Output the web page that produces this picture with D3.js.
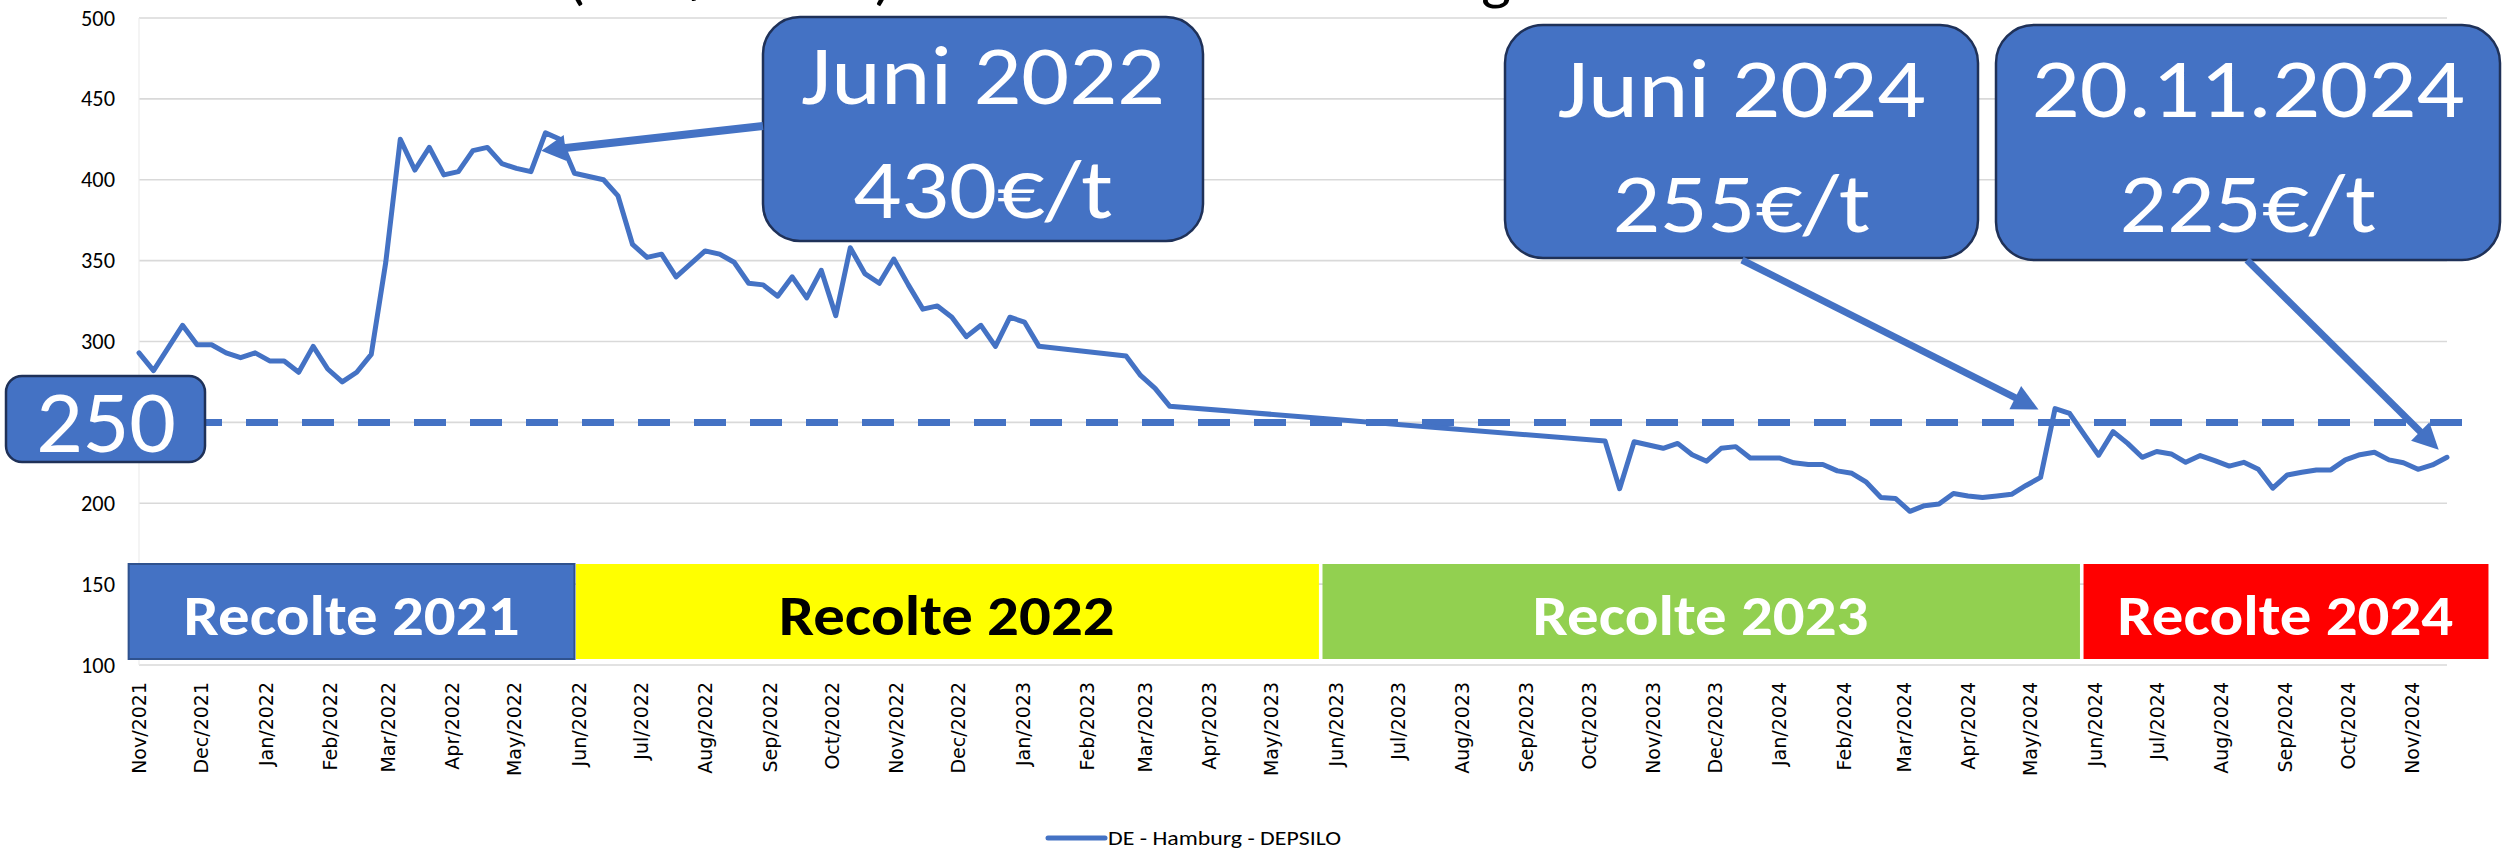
<!DOCTYPE html>
<html><head><meta charset="utf-8">
<script src="https://cdn.jsdelivr.net/npm/d3@7"></script>
<style>html,body{margin:0;padding:0;background:#fff;} svg{display:block}</style>
</head><body>
<svg id="chart" width="2503" height="850"></svg>
<script>
// ---------------- DATA ----------------
const titleText = "Prix du blé (EUR/Tonne) - Marché DE - Hamburg";
const seriesName = "DE - Hamburg - DEPSILO";
const dates = [
 "2021-11-03","2021-11-10","2021-11-24","2021-12-01","2021-12-08","2021-12-15","2021-12-22","2021-12-29",
 "2022-01-05","2022-01-12","2022-01-19","2022-01-26","2022-02-02","2022-02-09","2022-02-16","2022-02-23",
 "2022-03-02","2022-03-09","2022-03-16","2022-03-23","2022-03-30","2022-04-06","2022-04-13","2022-04-20",
 "2022-04-27","2022-05-04","2022-05-11","2022-05-18","2022-05-25","2022-06-01","2022-06-08","2022-06-15",
 "2022-06-22","2022-06-29","2022-07-06","2022-07-13","2022-07-20","2022-07-27","2022-08-03","2022-08-10",
 "2022-08-17","2022-08-24","2022-08-31","2022-09-07","2022-09-14","2022-09-21","2022-09-28","2022-10-05",
 "2022-10-12","2022-10-19","2022-10-26","2022-11-02","2022-11-09","2022-11-16","2022-11-23","2022-11-30",
 "2022-12-07","2022-12-14","2022-12-21","2022-12-28","2023-01-04","2023-01-11","2023-02-22","2023-03-01",
 "2023-03-08","2023-03-15","2023-10-11","2023-10-18","2023-10-25","2023-11-01","2023-11-08","2023-11-15",
 "2023-11-22","2023-11-29","2023-12-06","2023-12-13","2023-12-20","2023-12-27","2024-01-03","2024-01-10",
 "2024-01-17","2024-01-24","2024-01-31","2024-02-07","2024-02-14","2024-02-21","2024-02-28","2024-03-06",
 "2024-03-13","2024-03-20","2024-03-27","2024-04-03","2024-04-10","2024-04-17","2024-04-24","2024-05-01",
 "2024-05-08","2024-05-15","2024-05-22","2024-05-29","2024-06-05","2024-06-12","2024-06-19","2024-06-26",
 "2024-07-03","2024-07-10","2024-07-17","2024-07-24","2024-07-31","2024-08-07","2024-08-14","2024-08-21",
 "2024-08-28","2024-09-04","2024-09-11","2024-09-18","2024-09-25","2024-10-02","2024-10-09","2024-10-16",
 "2024-10-23","2024-10-30","2024-11-06","2024-11-13","2024-11-20"
];
const prices = [
 293,282,310,298,298,293,290,293,
 288,288,281,297,283,275,281,292,
 349,425,406,420,403,405,418,420,
 410,407,405,429,425,404,402,400,
 390,360,352,354,340,348,356,354,
 349,336,335,328,340,327,344,316,
 358,342,336,351,335,320,322,315,
 303,310,297,315,312,297,291,279,
 271,260,238.5,209,238,236,234,237,
 230,226,234,235,228,228,228,225,
 224,224,220,218.5,213,203.5,203,195,
 198.5,199.5,206,204.5,203.5,204.5,205.5,211,
 216,258.5,255.5,242.5,229.7,244.3,237,228.4,
 232,230.5,225.3,229.5,226.4,223,225.3,221,
 209.3,217.5,219.2,220.6,220.6,226.8,230,231.5,
 226.8,225,221,223.7,228.4
];
const yTicks = [100,150,200,250,300,350,400,450,500];
const threshold = 250;
const harvestLabels = ["Recolte 2021","Recolte 2022","Recolte 2023","Recolte 2024"];
const harvestStart  = ["2021-10-29","2022-06-01","2023-05-27","2024-05-28"];
const harvestEnd    = ["2022-06-01","2023-05-26","2024-05-27","2024-12-10"];
const harvestFill   = ["#4472C4","#FFFF00","#92D050","#FF0000"];
const harvestInk    = ["#FFFFFF","#000000","#FFFFFF","#FFFFFF"];
const calloutLines  = [["Juni 2022","430€/t"],["Juni 2024","255€/t"],["20.11.2024","225€/t"]];
const calloutTargetDate  = ["2022-05-16","2024-05-07","2024-11-16"];
const calloutTargetValue = [418, 258, 233];

// ---------------- LAYOUT ----------------
const W = 2503, H = 850;
const plot = {left:139, right:2447, top:18, bottom:665};
const blue = "#4472C4", navy = "#1f3158";
const calibri = "Carlito, Calibri, Lato, 'Open Sans', sans-serif";
const boxes = [
  {x:763, y:17, w:440, h:224, r:37, base:[104,218], tl:[364,260], from:[763,126], sw:8, head:[24,26]},
  {x:1505,y:25, w:473, h:233, r:38, base:[117,232], tl:[368,258], from:[1742,260], sw:7, head:[26,26]},
  {x:1996,y:25, w:504, h:235, r:38, base:[117,232], tl:[433,257], from:[2247,260], sw:7, head:[26,26]}
];

const parse = d3.timeParse("%Y-%m-%d");
const series = dates.map((d,i)=>({date:parse(d), value:prices[i]}));

const x = d3.scaleTime().domain([parse(dates[0]), parse(dates[dates.length-1])]).range([plot.left, plot.right]);
const y = d3.scaleLinear().domain([100,500]).range([plot.bottom, plot.top]);

const svg = d3.select("#chart");
svg.append("rect").attr("width",W).attr("height",H).attr("fill","#fff");

// gridlines
svg.append("g").selectAll("line").data(yTicks).join("line")
  .attr("x1",plot.left).attr("x2",plot.right)
  .attr("y1",d=>y(d)).attr("y2",d=>y(d))
  .attr("stroke","#D9D9D9").attr("stroke-width",1.6);
svg.append("line").attr("x1",plot.left).attr("x2",plot.left).attr("y1",y(500)).attr("y2",y(100))
  .attr("stroke","#EDEDED").attr("stroke-width",1.2);

// y axis labels (the 250 label sits under the "250" callout, as in the original)
const yAxis = d3.axisLeft(y).tickValues(yTicks.filter(v=>v!==threshold)).tickSize(0).tickPadding(24);
const gy = svg.append("g").attr("transform",`translate(${plot.left},0)`).call(yAxis);
gy.select(".domain").remove();
gy.selectAll("text").attr("font-family",calibri).attr("font-size",22).attr("fill","#000")
  .attr("textLength",34).attr("lengthAdjust","spacingAndGlyphs");

// x axis labels
const monthTicks = d3.range(0,37).map(i=>d3.timeMonth.offset(parse(dates[0]), i));
const xAxis = d3.axisBottom(x).tickValues(monthTicks).tickFormat(d3.timeFormat("%b/%Y")).tickSize(0);
const gx = svg.append("g").attr("transform",`translate(0,${plot.bottom})`).call(xAxis);
gx.select(".domain").remove();
gx.selectAll("text")
  .attr("font-family","'DejaVu Sans', Verdana, sans-serif").attr("font-size",19).attr("fill","#000")
  .attr("text-anchor","end").attr("dy","0.35em").attr("y",0)
  .attr("transform","translate(0,17) rotate(-90)");

// threshold dashed line
svg.append("line")
  .attr("x1",plot.left-5).attr("x2",plot.right+15)
  .attr("y1",y(threshold)).attr("y2",y(threshold))
  .attr("stroke",blue).attr("stroke-width",7).attr("stroke-dasharray","32,24");

// data line
svg.append("path").datum(series)
  .attr("d", d3.line().x(d=>x(d.date)).y(d=>y(d.value)))
  .attr("fill","none").attr("stroke",blue).attr("stroke-width",5)
  .attr("stroke-linejoin","round").attr("stroke-linecap","round");

// harvest bands
const bandTop = 564, bandBot = 659;
harvestLabels.forEach((lab,i)=>{
  const x0 = x(parse(harvestStart[i])), x1 = x(parse(harvestEnd[i]));
  svg.append("rect").attr("x",x0+(i?1.5:0)).attr("y",bandTop).attr("width",x1-x0-(i?1.5:0)).attr("height",bandBot-bandTop)
    .attr("fill",harvestFill[i])
    .attr("stroke", i===0 ? "#2F528F" : "none").attr("stroke-width",2);
  svg.append("text").attr("x",(x0+x1)/2).attr("y",635)
    .attr("text-anchor","middle").attr("font-family",calibri).attr("font-weight",900)
    .attr("font-size",57).attr("fill",harvestInk[i])
    .attr("textLength",336).attr("lengthAdjust","spacingAndGlyphs")
    .text(lab);
});

// 250 box
svg.append("rect").attr("x",6).attr("y",376).attr("width",199).attr("height",86).attr("rx",16)
  .attr("fill",blue).attr("stroke",navy).attr("stroke-width",2.5);
svg.append("text").attr("x",106).attr("y",452).attr("text-anchor","middle")
  .attr("font-family",calibri).attr("font-size",88).attr("fill","#fff")
  .attr("textLength",140).attr("lengthAdjust","spacingAndGlyphs").text(String(threshold));

// callouts + arrows
boxes.forEach((b,i)=>{
  svg.append("rect").attr("x",b.x).attr("y",b.y).attr("width",b.w).attr("height",b.h).attr("rx",b.r)
    .attr("fill",blue).attr("stroke",navy).attr("stroke-width",2.5);
  calloutLines[i].forEach((t,j)=>{
    svg.append("text").attr("x",b.x+b.w/2).attr("y",b.base[j]).attr("text-anchor","middle")
      .attr("font-family",calibri).attr("font-size",85).attr("fill","#fff")
      .attr("textLength",b.tl[j]).attr("lengthAdjust","spacingAndGlyphs").text(t);
  });
  const tx = x(parse(calloutTargetDate[i])), ty = y(calloutTargetValue[i]);
  const [fx,fy] = b.from;
  const ang = Math.atan2(ty-fy, tx-fx);
  const L = b.head[0], hw = b.head[1]/2;
  const bx = tx - L*Math.cos(ang), by = ty - L*Math.sin(ang);
  svg.append("line").attr("x1",fx).attr("y1",fy).attr("x2",bx+2*Math.cos(ang)).attr("y2",by+2*Math.sin(ang))
    .attr("stroke",blue).attr("stroke-width",b.sw);
  const px = -Math.sin(ang), py = Math.cos(ang);
  svg.append("path")
    .attr("d",`M${tx},${ty}L${bx+px*hw},${by+py*hw}L${bx-px*hw},${by-py*hw}Z`)
    .attr("fill",blue);
});

// legend
svg.append("line").attr("x1",1048).attr("x2",1105).attr("y1",838).attr("y2",838)
  .attr("stroke",blue).attr("stroke-width",5).attr("stroke-linecap","round");
svg.append("text").attr("x",1108).attr("y",845).attr("font-family",calibri).attr("font-size",21)
  .attr("fill","#000").attr("textLength",233).attr("lengthAdjust","spacingAndGlyphs").text(seriesName);

// title (mostly cut off at top, as in the original)
const tt = svg.append("text").attr("y",-2).attr("x",0).attr("font-family",calibri).attr("font-size",60)
  .attr("fill","#000").text(titleText);
const node = tt.node();
const i1 = titleText.indexOf("("), i2 = titleText.lastIndexOf("g");
const p1 = node.getSubStringLength(0,i1) + node.getSubStringLength(i1,1)/2;
const p2 = node.getSubStringLength(0,i2) + node.getSubStringLength(i2,1)/2;
const Lt = node.getComputedTextLength();
const k = (1496-576)/(p2-p1);
tt.attr("x", 576 - p1*k).attr("textLength", Lt*k).attr("lengthAdjust","spacingAndGlyphs");
</script>
</body></html>
